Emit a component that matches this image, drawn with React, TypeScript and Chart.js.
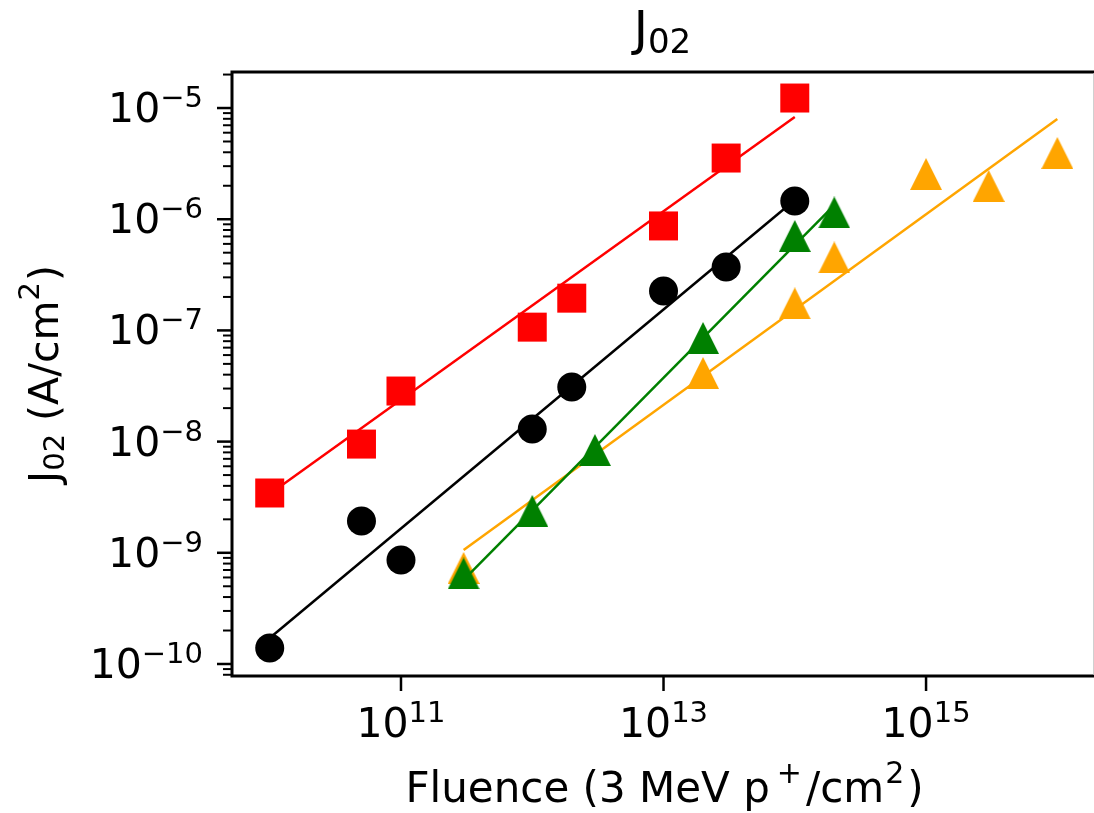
import React, { useEffect, useRef } from "react";
import { Chart, registerables } from "chart.js";

Chart.register(...registerables);

// ---- data ----
const fluenceBase = [1e10, 5e10, 1e11, 1e12, 2e12, 1e13, 3e13, 1e14];
const redJ02 = [3.45e-9, 9.5e-9, 2.85e-8, 1.07e-7, 1.95e-7, 8.7e-7, 3.55e-6, 1.23e-5];
const blackJ02 = [1.39e-10, 1.93e-9, 8.6e-10, 1.3e-8, 3.1e-8, 2.26e-7, 3.72e-7, 1.46e-6];
const greenFluence = [3e11, 1e12, 3e12, 2e13, 1e14, 2e14];
const greenJ02 = [6.52e-10, 2.38e-9, 8.4e-9, 8.55e-8, 7.06e-7, 1.15e-6];
const orangeFluence = [3e11, 2e13, 1e14, 2e14, 1e15, 3e15, 1e16];
const orangeJ02 = [7.3e-10, 4.14e-8, 1.75e-7, 4.53e-7, 2.55e-6, 1.99e-6, 3.94e-6];

const redFitX = [1e10, 1e14];
const redFitY = [3.38e-9, 8.3e-6];
const blackFitX = [1e10, 1e14];
const blackFitY = [1.71e-10, 1.49e-6];
const greenFitX = [3e11, 2e14];
const greenFitY = [5.7e-10, 1.34e-6];
const orangeFitX = [3e11, 1e16];
const orangeFitY = [1.06e-9, 7.96e-6];

const xTickValues = [1e11, 1e13, 1e15];
const xTickExps = ["11", "13", "15"];
const yTickValues = [1e-5, 1e-6, 1e-7, 1e-8, 1e-9, 1e-10];
const yTickExps = ["\u22125", "\u22126", "\u22127", "\u22128", "\u22129", "\u221210"];

const X_MIN = 5.16e9;
const X_MAX = 1.87e16;
const Y_MAX = Math.pow(10, -4.676);
const Y_MIN = Math.pow(10, -10.108);

const RED = "#ff0000";
const BLACK = "#000000";
const GREEN = "#008000";
const ORANGE = "#ffa500";

const FONT = '"DejaVu Sans", "Liberation Sans", sans-serif';

const toPts = (xs: number[], ys: number[]) => xs.map((x, i) => ({ x, y: ys[i] }));

function makeTriangle(color: string, size: number): HTMLCanvasElement {
  const c = document.createElement("canvas");
  c.width = size;
  c.height = size;
  const g = c.getContext("2d")!;
  g.fillStyle = color;
  g.beginPath();
  g.moveTo(size / 2, 0);
  g.lineTo(size, size);
  g.lineTo(0, size);
  g.closePath();
  g.fill();
  return c;
}

type Part = { t: string; size: number; dy: number; gap?: number };

function partsWidth(ctx: CanvasRenderingContext2D, parts: Part[]) {
  let w = 0;
  for (const p of parts) {
    ctx.font = `${p.size}px ${FONT}`;
    w += ctx.measureText(p.t).width + (p.gap || 0);
  }
  return w;
}

function drawParts(ctx: CanvasRenderingContext2D, parts: Part[], x: number, y: number, align: "left" | "center" | "right") {
  const w = partsWidth(ctx, parts);
  let cx = align === "left" ? x : align === "center" ? x - w / 2 : x - w;
  ctx.textAlign = "left";
  ctx.textBaseline = "alphabetic";
  for (const p of parts) {
    ctx.font = `${p.size}px ${FONT}`;
    cx += p.gap || 0;
    ctx.fillText(p.t, cx, y + p.dy);
    cx += ctx.measureText(p.t).width;
  }
}

const axesPlugin = {
  id: "mplAxes",
  afterDatasetsDraw(chart: any) {
    const ctx: CanvasRenderingContext2D = chart.ctx;
    const { left, right, top, bottom } = chart.chartArea;
    const xs = chart.scales.x;
    const ys = chart.scales.y;
    ctx.save();
    ctx.fillStyle = "#000";
    ctx.strokeStyle = "#000";

    // spines
    ctx.lineWidth = 3;
    ctx.lineCap = "square";
    ctx.beginPath();
    ctx.moveTo(left, bottom);
    ctx.lineTo(left, top);
    ctx.lineTo(right + 3, top);
    ctx.moveTo(left, bottom);
    ctx.lineTo(right + 3, bottom);
    ctx.stroke();
    ctx.lineWidth = 1;
    ctx.strokeStyle = "#d0d0d0";
    ctx.beginPath();
    ctx.moveTo(right + 0.5, top + 2);
    ctx.lineTo(right + 0.5, bottom - 2);
    ctx.stroke();
    ctx.strokeStyle = "#000";
    ctx.lineCap = "butt";

    // x ticks
    ctx.lineWidth = 2.5;
    xTickValues.forEach((v, i) => {
      const px = xs.getPixelForValue(v);
      ctx.beginPath();
      ctx.moveTo(px, bottom);
      ctx.lineTo(px, bottom + 15);
      ctx.stroke();
      drawParts(
        ctx,
        [
          { t: "10", size: 41, dy: 0 },
          { t: xTickExps[i], size: 29, dy: -15 },
        ],
        px,
        737,
        "center"
      );
    });

    // y ticks (major + minor)
    const lo = Math.floor(Math.log10(Y_MIN));
    const hi = Math.ceil(Math.log10(Y_MAX));
    for (let e = lo; e <= hi; e++) {
      for (let m = 1; m <= 9; m++) {
        const v = m * Math.pow(10, e);
        if (v < Y_MIN || v > Y_MAX) continue;
        const py = ys.getPixelForValue(v);
        ctx.lineWidth = m === 1 ? 2.5 : 2;
        ctx.beginPath();
        ctx.moveTo(left, py);
        ctx.lineTo(left - (m === 1 ? 15 : 9), py);
        ctx.stroke();
      }
    }
    yTickValues.forEach((v, i) => {
      const py = ys.getPixelForValue(v);
      drawParts(
        ctx,
        [
          { t: "10", size: 41, dy: 0 },
          { t: yTickExps[i], size: 29, dy: -15 },
        ],
        203,
        py + 14,
        "right"
      );
    });

    // x label
    const cxAxes = (left + right) / 2;
    drawParts(
      ctx,
      [
        { t: "Fluence (3 MeV p", size: 42, dy: 0 },
        { t: "+", size: 30, dy: -19, gap: 7 },
        { t: "/cm", size: 42, dy: 0, gap: 4 },
        { t: "2", size: 30, dy: -19, gap: 1 },
        { t: ")", size: 42, dy: 0, gap: 3 },
      ],
      cxAxes + 2,
      802,
      "center"
    );

    // y label (rotated)
    ctx.save();
    ctx.translate(58, (top + bottom) / 2);
    ctx.rotate(-Math.PI / 2);
    drawParts(
      ctx,
      [
        { t: "J", size: 41, dy: 0 },
        { t: "02", size: 29, dy: 6 },
        { t: " (A/cm", size: 41, dy: 0 },
        { t: "2", size: 29, dy: -19 },
        { t: ")", size: 41, dy: 0, gap: 1 },
      ],
      0,
      0,
      "center"
    );
    ctx.restore();

    // title
    drawParts(
      ctx,
      [
        { t: "J", size: 48, dy: 0 },
        { t: "02", size: 34, dy: 8 },
      ],
      cxAxes,
      45,
      "center"
    );

    ctx.restore();
  },
};

export default function App() {
  const ref = useRef<HTMLCanvasElement | null>(null);

  useEffect(() => {
    document.body.style.margin = "0";
    const canvas = ref.current!;
    const greenTri = makeTriangle(GREEN, 32);
    const orangeTri = makeTriangle(ORANGE, 32);

    const lineDs = (label: string, xs: number[], ys: number[], color: string, order: number) => ({
      label,
      data: toPts(xs, ys),
      showLine: true,
      borderColor: color,
      backgroundColor: color,
      borderWidth: 2.5,
      pointRadius: 0,
      pointHoverRadius: 0,
      order,
    });

    const chart = new Chart(canvas, {
      type: "scatter",
      data: {
        datasets: [
          {
            label: "green",
            data: toPts(greenFluence, greenJ02),
            pointStyle: greenTri as any,
            pointRadius: 16,
            backgroundColor: GREEN,
            borderColor: GREEN,
            order: 0,
          },
          lineDs("green fit", greenFitX, greenFitY, GREEN, 1),
          {
            label: "orange",
            data: toPts(orangeFluence, orangeJ02),
            pointStyle: orangeTri as any,
            pointRadius: 16,
            backgroundColor: ORANGE,
            borderColor: ORANGE,
            order: 2,
          },
          lineDs("orange fit", orangeFitX, orangeFitY, ORANGE, 3),
          {
            label: "black",
            data: toPts(fluenceBase, blackJ02),
            pointStyle: "circle",
            pointRadius: 14.5,
            pointBorderWidth: 0,
            backgroundColor: BLACK,
            borderColor: BLACK,
            order: 4,
          },
          lineDs("black fit", blackFitX, blackFitY, BLACK, 5),
          {
            label: "red",
            data: toPts(fluenceBase, redJ02),
            pointStyle: "rect",
            pointRadius: 20.5,
            pointBorderWidth: 0,
            backgroundColor: RED,
            borderColor: RED,
            order: 6,
          },
          lineDs("red fit", redFitX, redFitY, RED, 7),
        ],
      },
      options: {
        responsive: false,
        animation: false,
        events: [],
        layout: { autoPadding: false, padding: { left: 232, top: 72, right: 1, bottom: 137 } },
        plugins: {
          legend: { display: false },
          title: { display: false },
          tooltip: { enabled: false },
        },
        scales: {
          x: {
            type: "logarithmic",
            display: false,
            min: X_MIN,
            max: X_MAX,
            bounds: "data",
          },
          y: {
            type: "logarithmic",
            display: false,
            min: Y_MIN,
            max: Y_MAX,
            bounds: "data",
          },
        },
      },
      plugins: [axesPlugin],
    });
    return () => chart.destroy();
  }, []);

  return (
    <div style={{ position: "absolute", left: 0, top: 0, width: 1094, height: 813, background: "#fff" }}>
      <canvas ref={ref} width={1094} height={813} style={{ display: "block" }} />
    </div>
  );
}
